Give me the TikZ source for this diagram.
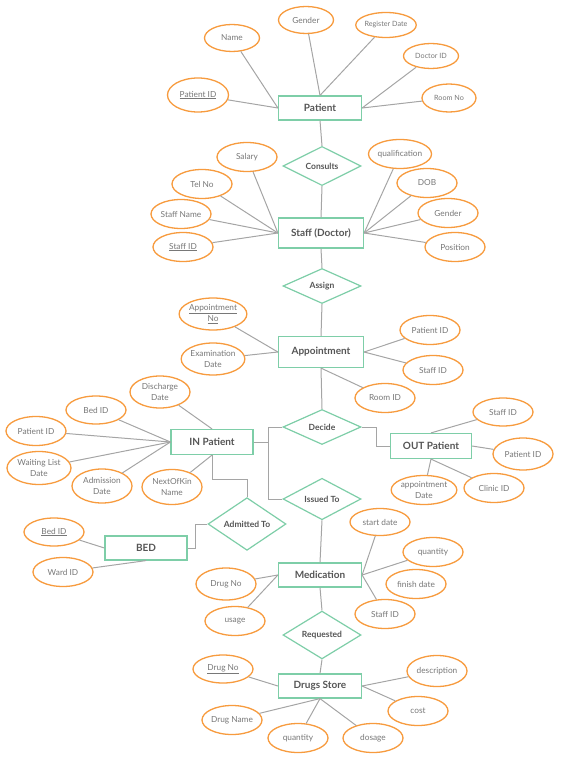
\documentclass[tikz,border=0pt]{standalone}
\usepackage{fontspec}
\setmainfont{Lato}
\usetikzlibrary{shapes.geometric}
\definecolor{entgreen}{RGB}{126,206,168}
\definecolor{attrorange}{RGB}{247,155,62}
\definecolor{linegray}{RGB}{165,165,165}
\definecolor{enttext}{RGB}{85,85,85}
\definecolor{attrtext}{RGB}{120,120,120}
\tikzset{
  entity/.style={draw=entgreen, line width=1.2pt, fill=white, rectangle, minimum width=83pt, minimum height=25pt, inner sep=0pt, text=enttext, font=\fontsize{10}{12}\selectfont\bfseries},
  rel/.style={draw=entgreen, line width=1.2pt, fill=white, diamond, minimum width=78pt, minimum height=35pt, inner sep=0pt, text=enttext, font=\fontsize{8.5}{10}\selectfont\bfseries},
  attr/.style={draw=attrorange, line width=1.3pt, fill=white, ellipse, minimum width=60pt, minimum height=29pt, inner sep=0pt, text=attrtext, align=center, font=\fontsize{8.3}{11}\selectfont},
  sattr/.style={attr, font=\fontsize{7.2}{9}\selectfont},
  conn/.style={draw=linegray, line width=1pt},
}
\begin{document}
\begin{tikzpicture}[x=1pt, y=-1pt]
\useasboundingbox (0,0) rectangle (560,759);
% entities
\node[entity, minimum width=83pt, minimum height=24pt] (patient) at (320,108) {Patient};
\node[entity, minimum width=85pt, minimum height=30pt] (staff) at (321,233) {Staff (Doctor)};
\node[entity, minimum width=85pt, minimum height=31pt] (appt) at (321,352) {Appointment};
\node[entity, minimum width=82pt, minimum height=25pt] (inp) at (212,442) {IN Patient};
\node[entity, minimum width=81pt, minimum height=25pt] (outp) at (431,446) {OUT Patient};
\node[entity, minimum width=82pt, minimum height=24pt] (bed) at (146,548) {BED};
\node[entity, minimum width=83pt, minimum height=24pt] (med) at (320,575) {Medication};
\node[entity, minimum width=83pt, minimum height=24pt] (drugs) at (320,686) {Drugs Store};
% relationships
\node[rel] (consults) at (322,166) {Consults};
\node[rel] (assign) at (322,286) {Assign};
\node[rel] (decide) at (322,427) {Decide};
\node[rel] (issued) at (322,499) {Issued To};
\node[rel] (admitted) at (247,524) {Admitted To};
\node[rel] (requested) at (322,635) {Requested};
% patient attributes
\node[attr, minimum width=55pt, minimum height=27pt] (pname) at (232,38) {Name};
\node[attr, minimum width=55pt, minimum height=27pt] (pgender) at (306,20) {Gender};
\node[sattr, minimum width=56pt, minimum height=25pt] (preg) at (386,25) {Register Date};
\node[sattr, minimum width=55pt, minimum height=25pt] (pdoc) at (431,56) {Doctor ID};
\node[sattr, minimum width=54pt, minimum height=28pt] (proom) at (449,98) {Room No};
\node[attr, minimum width=61pt, minimum height=34pt] (pid) at (198,95) {\underline{Patient ID}};
% staff attributes
\node[attr] (ssal) at (247,157) {Salary};
\node[attr] (stel) at (202,184) {Tel No};
\node[attr] (sname) at (181,214) {Staff Name};
\node[attr] (sid) at (183,247) {\underline{Staff ID}};
\node[attr] (squal) at (400,154) {qualification};
\node[attr] (sdob) at (427,183) {DOB};
\node[attr] (sgen) at (448,213) {Gender};
\node[attr] (spos) at (455,247) {Position};
% appointment attributes
\node[attr, minimum height=32pt] (ano) at (213,314) {\underline{Appointment}\\\underline{No}};
\node[attr, minimum height=32pt] (aexam) at (213,359) {Examination\\Date};
\node[attr] (apid) at (430,330) {Patient ID};
\node[attr] (asid) at (433,370) {Staff ID};
\node[attr] (aroom) at (385,398) {Room ID};
% in patient attributes
\node[attr, minimum height=32pt] (idis) at (160,392) {Discharge\\Date};
\node[attr, minimum height=28pt] (ibed) at (96,410) {Bed ID};
\node[attr] (ipid) at (36,431) {Patient ID};
\node[attr, minimum width=64pt, minimum height=33pt] (iwait) at (39,468) {Waiting List\\Date};
\node[attr, minimum height=34pt] (iadm) at (102,486) {Admission\\Date};
\node[attr, minimum height=35pt] (inok) at (172,487) {NextOfKin\\Name};
% out patient attributes
\node[attr, minimum height=28pt] (osid) at (503,412) {Staff ID};
\node[attr, minimum height=32pt] (opid) at (523,454) {Patient ID};
\node[attr] (oclinic) at (494,488) {Clinic ID};
\node[attr] (oadate) at (424,490) {appointment\\Date};
% bed attributes
\node[attr, minimum height=28pt] (bid) at (54,532) {\underline{Bed ID}};
\node[attr] (bward) at (63,572) {Ward ID};
% medication attributes
\node[attr, minimum height=27pt] (mstart) at (380,522) {start date};
\node[attr] (mqty) at (433,552) {quantity};
\node[attr] (mfin) at (416,584) {finish date};
\node[attr] (msid) at (385,614) {Staff ID};
\node[attr, minimum height=32pt] (mdrug) at (226,584) {Drug No};
\node[attr] (musage) at (235,621) {usage};
% drugs store attributes
\node[attr, minimum height=28pt] (ddno) at (223,669) {\underline{Drug No}};
\node[attr, minimum height=31pt] (ddesc) at (437,671) {description};
\node[attr] (dcost) at (418,711) {cost};
\node[attr] (dname) at (232,720) {Drug Name};
\node[attr] (dqty) at (298,738) {quantity};
\node[attr] (ddos) at (373,738) {dosage};
% helper coordinates
\coordinate (inright) at (268,442);
\coordinate (dtop) at (268,427);
\coordinate (dbot) at (268,499);
% ---------- connectors ----------
\begin{scope}[conn]
% main spine
\draw (patient.south) -- (consults.north);
\draw (consults.south) -- (staff.north);
\draw (staff.south) -- (assign.north);
\draw (assign.south) -- (appt.north);
\draw (appt.south) -- (decide.north);
\draw (issued.south) -- (med.north);
\draw (med.south) -- (requested.north);
\draw (requested.south) -- (drugs.north);
% patient
\draw (pname) -- (patient.west);
\draw (pid) -- (patient.west);
\draw (pgender) -- (patient.north);
\draw (preg) -- (patient.north);
\draw (pdoc) -- (patient.east);
\draw (proom) -- (patient.east);
% staff
\draw (ssal) -- (staff.west);
\draw (stel) -- (staff.west);
\draw (sname) -- (staff.west);
\draw (sid) -- (staff.west);
\draw (squal) -- (staff.east);
\draw (sdob) -- (staff.east);
\draw (sgen) -- (staff.east);
\draw (spos) -- (staff.east);
% appointment
\draw (ano) -- (appt.west);
\draw (aexam) -- (appt.west);
\draw (apid) -- (appt.east);
\draw (asid) -- (appt.east);
\draw (aroom) -- (appt.south);
% in patient
\draw (idis) -- (inp.north);
\draw (ibed) -- (inp.west);
\draw (ipid) -- (inp.west);
\draw (iwait) -- (inp.west);
\draw (iadm) -- (inp.west);
\draw (inok) -- (inp.south);
\draw (inp.east) -- (inright);
\draw (decide.west) -- (dtop) -- (dbot) -- (issued.west);
\draw (inp.south) -- ++(0,24) -| (admitted.north);
% out patient
\draw (decide.east) -- ++(15,0) |- (outp.west);
\draw (osid) -- (outp.north);
\draw (opid) -- (outp.east);
\draw (oclinic) -- (outp.south);
\draw (oadate) -- (outp.south);
% bed
\draw (bid) -- (bed.west);
\draw (bward) -- (bed.south);
\draw (bed.east) -- ++(8,0) |- (admitted.west);
% medication
\draw (mstart) -- (med.east);
\draw (mqty) -- (med.east);
\draw (msid) -- (med.east);
\draw (mdrug) -- (med.west);
\draw (musage) -- (med.west);
% drugs store
\draw (ddno) -- (drugs.west);
\draw (ddesc) -- (drugs.east);
\draw (dcost) -- (drugs.east);
\draw (dname) -- (drugs.south);
\draw (dqty) -- (drugs.south);
\draw (ddos) -- (drugs.south);
\end{scope}
\end{tikzpicture}
\end{document}
